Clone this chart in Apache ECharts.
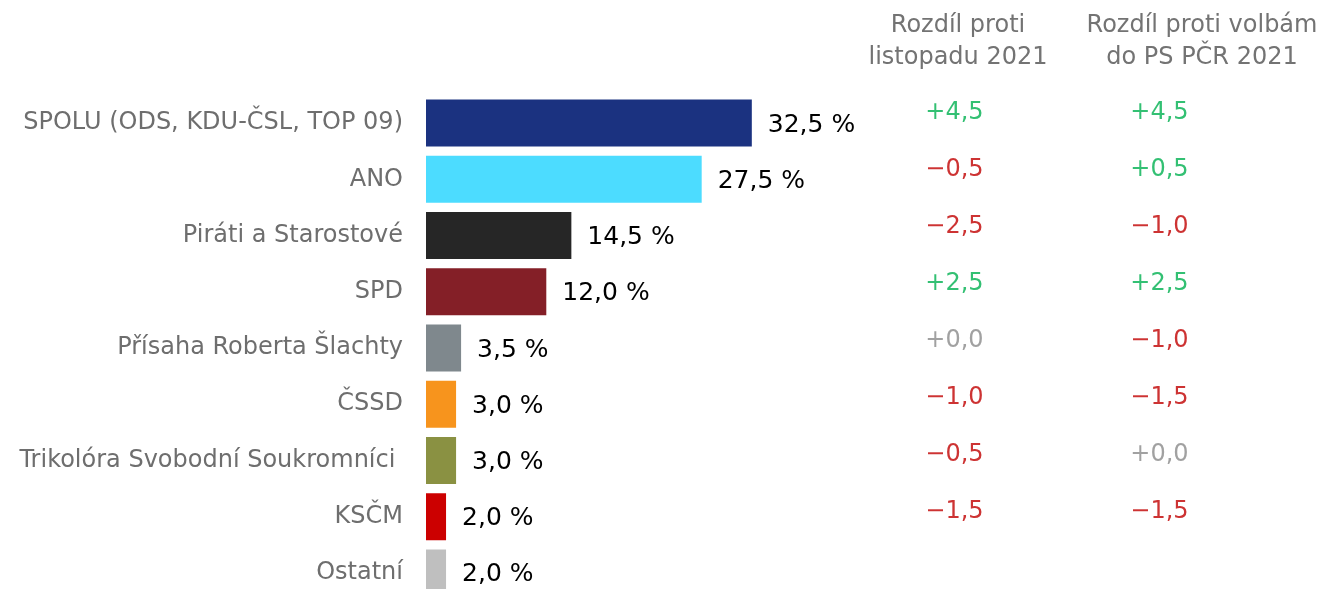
<!DOCTYPE html>
<html>
<head>
<meta charset="utf-8">
<script src="https://cdn.jsdelivr.net/npm/echarts@6/dist/echarts.min.js"></script>
<style>
html,body{margin:0;padding:0;background:#fff;}
#chart{width:1320px;height:589px;}
</style>
</head>
<body>
<div id="chart"></div>
<script>
const categories = ['SPOLU (ODS, KDU-ČSL, TOP 09)', 'ANO', 'Piráti a Starostové', 'SPD', 'Přísaha Roberta Šlachty', 'ČSSD', 'Trikolóra Svobodní Soukromníci ', 'KSČM', 'Ostatní'];
const values = [32.5, 27.5, 14.5, 12.0, 3.5, 3.0, 3.0, 2.0, 2.0];
const barColors = ['#1B3280', '#4CDCFF', '#262626', '#841F27', '#7F888D', '#F7941D', '#8A9142', '#CC0000', '#BFBFBF'];
const diffNov = [4.5, -0.5, -2.5, 2.5, 0.0, -1.0, -0.5, -1.5, null];
const diffElection = [4.5, 0.5, -1.0, 2.5, -1.0, -1.5, 0.0, -1.5, null];
const columnHeaders = ['Rozdíl proti\nlistopadu 2021', 'Rozdíl proti volbám\ndo PS PČR 2021'];

const FONT = 'DejaVu Sans';
function fmtPct(v) { return v.toFixed(1).replace('.', ',') + ' %'; }
function fmtDiff(v) {
  const s = v > 0 ? '+' : (v < 0 ? '\u2212' : '+');
  return s + Math.abs(v).toFixed(1).replace('.', ',');
}
function diffColor(v) { return v > 0 ? '#00B050' : (v < 0 ? '#C00000' : '#8A8A8A'); }

function diffSeries(arr, col) {
  return {
    type: 'scatter',
    xAxisIndex: 1, yAxisIndex: 1,
    symbolSize: 1,
    itemStyle: { color: 'rgba(0,0,0,0)' },
    silent: true,
    data: arr.map((v, i) => v === null ? null : {
      value: [col, i],
      label: { formatter: fmtDiff(v), color: diffColor(v) }
    }).filter(d => d !== null),
    label: {
      show: true, position: 'inside', offset: [0, 0],
      fontFamily: FONT, fontSize: 24
    }
  };
}

const chart = echarts.init(document.getElementById('chart'), null, { renderer: 'canvas' });
chart.setOption({
  animation: false,
  backgroundColor: '#ffffff',
  grid: [
    { left: 426, width: 401, top: 95, height: 506, outerBoundsMode: 'none', containLabel: false },
    { left: 852, width: 410, top: 84, height: 513, outerBoundsMode: 'none', containLabel: false },
    { left: 836, width: 488, top: 95, height: 504, outerBoundsMode: 'none', containLabel: false }
  ],
  xAxis: [
    { type: 'value', min: 0, max: 40, show: false, gridIndex: 0 },
    { type: 'category', data: columnHeaders, gridIndex: 1, show: false },
    { type: 'category', data: columnHeaders, position: 'top', gridIndex: 2,
      axisLine: { show: false }, axisTick: { show: false }, splitLine: { show: false },
      axisLabel: { color: '#737373', fontFamily: FONT, fontSize: 24, lineHeight: 32, margin: 21, interval: 0 } }
  ],
  yAxis: [
    { type: 'category', data: categories, inverse: true, gridIndex: 0,
      axisLine: { show: false }, axisTick: { show: false }, splitLine: { show: false },
      axisLabel: { color: '#6E6E6E', fontFamily: FONT, fontSize: 24, margin: 23, interval: 0 } },
    { type: 'category', data: categories, inverse: true, gridIndex: 1, show: false },
    { type: 'category', data: categories, inverse: true, gridIndex: 2, show: false }
  ],
  series: [
    {
      type: 'bar',
      xAxisIndex: 0, yAxisIndex: 0,
      barWidth: 47,
      data: values.map((v, i) => ({ value: v, itemStyle: { color: barColors[i] } })),
      label: {
        show: true, position: 'right', distance: 16, offset: [0, 2],
        color: '#000000', fontFamily: FONT, fontSize: 25,
        formatter: p => fmtPct(p.value)
      }
    },
    diffSeries(diffNov, 0),
    diffSeries(diffElection, 1)
  ]
});
</script>
</body>
</html>
